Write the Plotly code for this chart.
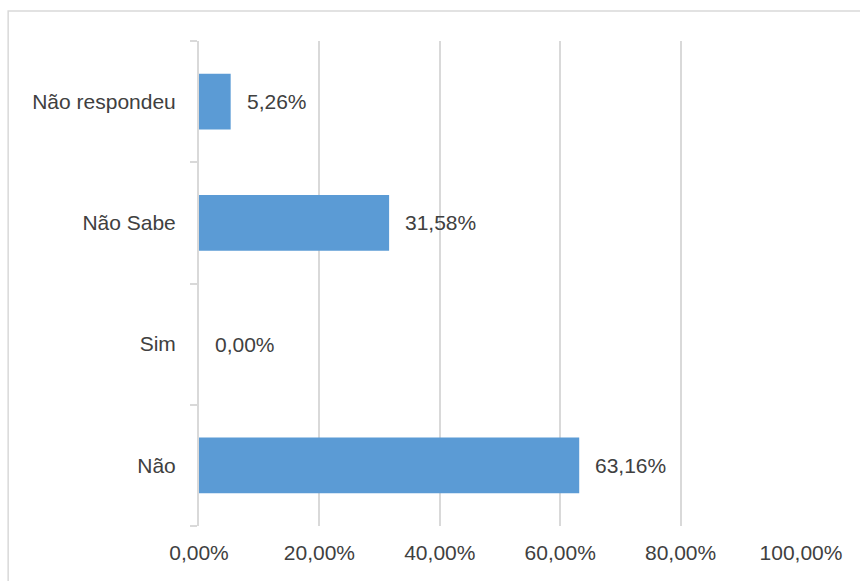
import plotly.graph_objects as go

categories = ["Não", "Sim", "Não Sabe", "Não respondeu"]
values = [63.16, 0.00, 31.58, 5.26]
x_ticks = [0, 20, 40, 60, 80, 100]
x_tick_labels = ["0,00%", "20,00%", "40,00%", "60,00%", "80,00%", "100,00%"]

def fmt(v):
    return f"{v:.2f}".replace(".", ",") + "%"

FONT = "Liberation Sans"
FS = 21
W, H = 860, 581
L, R, T, B = 199, 58.5, 41, 55
pw, ph = W - L - R, H - T - B

fig = go.Figure()
fig.add_trace(go.Bar(
    y=categories, x=values, orientation="h",
    marker=dict(color="#5b9bd5", line=dict(width=0)),
    width=0.46, hoverinfo="skip",
))

for c, v in zip(categories, values):
    fig.add_annotation(x=v, y=c, text=fmt(v), showarrow=False,
                       xanchor="left", xshift=14,
                       font=dict(family=FONT, size=FS, color="#404040"))

# outer chart border
fig.add_shape(type="rect", xref="paper", yref="paper",
              x0=(8 - L) / pw, x1=(W + 5 - L) / pw,
              y0=(H - B - (H + 5)) / ph, y1=(H - B - 11) / ph,
              line=dict(color="#d9d9d9", width=1.5), fillcolor="rgba(0,0,0,0)",
              layer="below")

fig.update_layout(
    width=W, height=H,
    margin=dict(l=L, r=R, t=T, b=B),
    paper_bgcolor="white", plot_bgcolor="white",
    showlegend=False,
    xaxis=dict(range=[0, 100], tickvals=x_ticks, ticktext=x_tick_labels,
               showgrid=True, gridcolor="#d9d9d9", gridwidth=2,
               zeroline=False, showline=False, ticks="",
               ticklabelstandoff=12,
               tickfont=dict(family=FONT, size=FS, color="#404040")),
    yaxis=dict(type="category", categoryorder="array", categoryarray=categories,
               range=[-0.5, 3.5],
               showgrid=False, zeroline=False,
               showline=True, linecolor="#d9d9d9", linewidth=2,
               ticks="outside", tickson="boundaries", ticklen=7,
               tickcolor="#d9d9d9", tickwidth=2,
               ticklabelstandoff=17,
               tickfont=dict(family=FONT, size=FS, color="#404040")),
)

fig.write_html("out.html")
